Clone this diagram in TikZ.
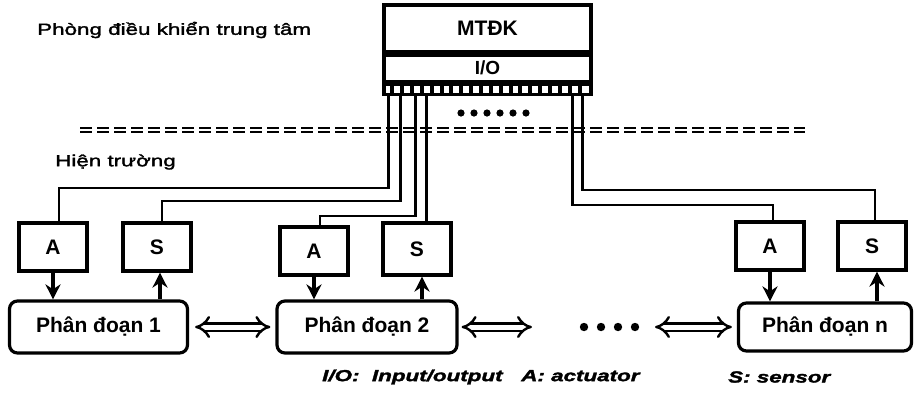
\documentclass[tikz,border=0pt]{standalone}
\usepackage{fontspec}
\setmainfont{Liberation Sans}
\newfontfamily\widefont[FakeStretch=1.4, FakeBold=2]{Liberation Sans}
\usepackage{tikz}
\usetikzlibrary{arrows.meta, positioning}
\tikzstyle{dev}   = [rectangle, draw=black, line width=3.2pt, minimum width=68pt,
                     minimum height=48pt, text centered, inner sep=0pt,
                     font=\fontsize{21}{24}\selectfont\bfseries]
\tikzstyle{seg}   = [rectangle, rounded corners=8pt, draw=black, line width=3.2pt,
                     minimum width=178pt, minimum height=52pt, text centered,
                     font=\fontsize{21}{24}\selectfont\bfseries]
\tikzstyle{lbl}   = [inner sep=0pt, font=\widefont\fontsize{16}{19}\selectfont]
\tikzstyle{key}   = [inner sep=0pt, font=\widefont\fontsize{16}{19}\selectfont\bfseries\itshape]
\tikzstyle{wire}  = [line width=2.6pt]
\tikzstyle{arr}   = [-{Stealth[length=15pt,width=15pt]}, line width=3.2pt]
\tikzstyle{link}  = [{Implies[scale=1.7]}-{Implies[scale=1.7]},
                     double, double distance=5pt, line width=2.4pt]

\begin{document}
\begin{tikzpicture}[x=1pt, y=-1pt]
  \useasboundingbox (0,0) rectangle (914,392);

  % control room
  \node[lbl, anchor=west] (room) at (37,30) {Phòng điều khiển trung tâm};
  \node[dev, minimum width=207pt, minimum height=47pt] (ctrl) at (487.5,28.5) {MTĐK};
  \node[dev, minimum width=207pt, minimum height=26pt, below=0pt of ctrl,
        font=\fontsize{19}{22}\selectfont\bfseries] (io) {I/O};
  \node[draw, line width=3.2pt, minimum width=207pt, minimum height=10pt,
        inner sep=0pt, below=0pt of io] (pins) {};
  \foreach \i in {1,...,20}
    \draw[line width=4pt] ([xshift=\i*9.86pt]pins.north west) -- ([xshift=\i*9.86pt]pins.south west);
  \foreach \x in {461,474,...,527}
    \fill (\x,113) circle (3.6pt);

  % separator
  \draw[line width=2pt, double distance=1.6pt, dash pattern=on 12pt off 5pt] (80,130) -- (805,130);
  \node[lbl, anchor=west] (field) at (55,162) {Hiện trường};

  % field devices
  \node[dev] (A1) at (53,247) {A};
  \node[dev] (S1) at (157,247) {S};
  \node[dev] (A2) at (314,251) {A};
  \node[dev, minimum height=52pt] (S2) at (417,249) {S};
  \node[dev] (An) at (770,246) {A};
  \node[dev] (Sn) at (872,246) {S};

  \node[seg] (PD1) at (98.5,327) {Phân đoạn 1};
  \node[seg, minimum width=180pt] (PD2) at (367,327) {Phân đoạn 2};
  \node[seg, minimum width=173pt, minimum height=48pt] (PDn) at (825,327) {Phân đoạn n};

  % wires from I/O
  \coordinate (p1) at ([xshift=6pt]pins.south west);
  \coordinate (p2) at ([xshift=18pt]pins.south west);
  \coordinate (p3) at ([xshift=33pt]pins.south west);
  \coordinate (p4) at ([xshift=44pt]pins.south west);
  \coordinate (p5) at ([xshift=190pt]pins.south west);
  \coordinate (p6) at ([xshift=200pt]pins.south west);

  \draw[wire] (p1) -- ++(0,92) -| ([xshift=6pt]A1.north);
  \draw[wire] (p2) -- ++(0,105) -| ([xshift=5pt]S1.north);
  \draw[wire] (p3) -- ++(0,120) -| ([xshift=6pt]A2.north);
  \draw[wire] (p4) -- (p4 |- S2.north);
  \draw[wire] (p5) -- ++(0,109) -| ([xshift=3pt]An.north);
  \draw[wire] (p6) -- ++(0,94) -| ([xshift=3pt]Sn.north);

  % actuator / sensor arrows
  \draw[arr] (A1.south) -- (A1.south |- PD1.north);
  \draw[arr] ([xshift=3pt]S1.south |- PD1.north) -- ([xshift=3pt]S1.south);
  \draw[arr] (A2.south) -- (A2.south |- PD2.north);
  \draw[arr] ([xshift=5pt]S2.south |- PD2.north) -- ([xshift=5pt]S2.south);
  \draw[arr] (An.south) -- (An.south |- PDn.north);
  \draw[arr] ([xshift=5pt]Sn.south |- PDn.north) -- ([xshift=5pt]Sn.south);

  % links between segments
  \coordinate (moreL) at (532,327);
  \coordinate (moreR) at (655,327);
  \draw[link] ([xshift=6pt]PD1.east) -- ([xshift=-5pt]PD2.west);
  \draw[link] ([xshift=3pt]PD2.east) -- (moreL);
  \draw[link] (moreR) -- ([xshift=-5pt]PDn.west);
  \foreach \x in {584,601,618,635}
    \fill (\x,327) circle (4.2pt);

  % legend
  \node[key, anchor=west] (keyIO) at (322,377) {I/O:\ \ Input/output\ \ \ A: actuator};
  \node[key, anchor=west] (keyS) at (728,377) {S: sensor};
\end{tikzpicture}
\end{document}
